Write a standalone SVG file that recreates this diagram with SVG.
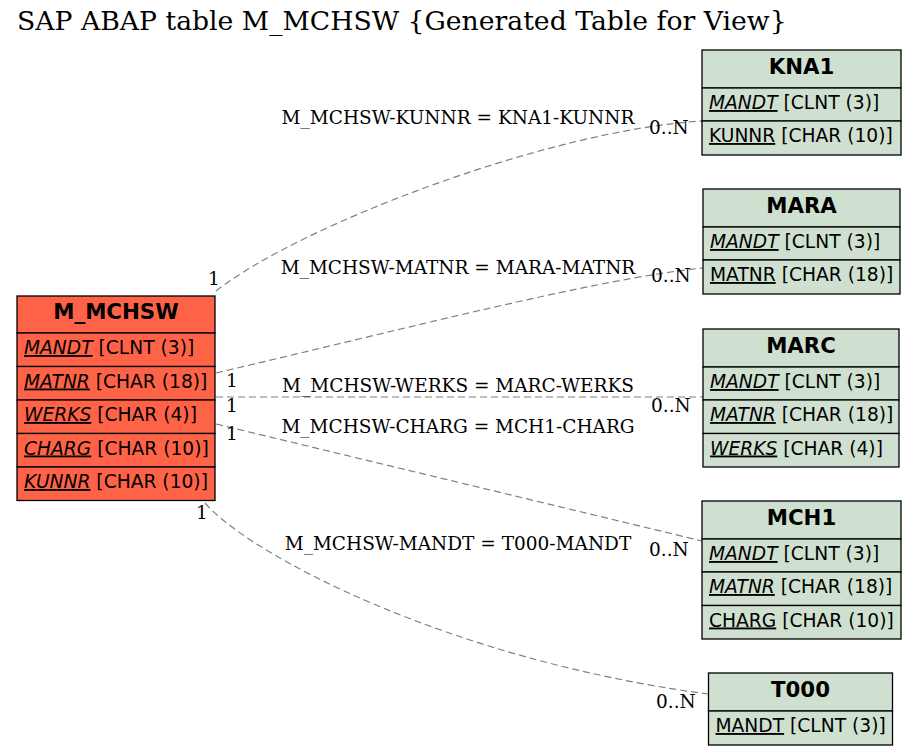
<svg xmlns="http://www.w3.org/2000/svg" width="916" height="754" viewBox="0 0 916 754">
<style>
.title{font-family:"DejaVu Serif",serif;font-size:26.67px;fill:#000}
.lbl{font-family:"DejaVu Serif",serif;font-size:18.5px;fill:#000}
.hd{font-family:"DejaVu Sans",sans-serif;font-size:21.3px;font-weight:bold;fill:#000;text-anchor:middle}
.fld{font-family:"DejaVu Sans",sans-serif;font-size:18.67px;fill:#000}
.main{fill:#ff6347;stroke:#000;stroke-width:1.3}
.ref{fill:#d0e0d0;stroke:#000;stroke-width:1.3}
.u{text-decoration:underline}
.i{font-style:italic}
.edge{fill:none;stroke:#808080;stroke-width:1.2;stroke-dasharray:7,4}
</style>
<rect width="916" height="754" fill="#fff"/>
<text class="title" x="17" y="30">SAP ABAP table M_MCHSW {Generated Table for View}</text>

<g id="connectors">
<path class="edge" d="M216,291 C300,225 550,130 702,121"/>
<path class="edge" d="M216,373 C400,330 600,278 703,268"/>
<path class="edge" d="M216,397 L703,397"/>
<path class="edge" d="M216,424 L702,541"/>
<path class="edge" d="M205,503 C250,555 450,660 708,694"/>
<text class="lbl" x="458" y="124" text-anchor="middle">M_MCHSW-KUNNR = KNA1-KUNNR</text>
<text class="lbl" x="458" y="274" text-anchor="middle">M_MCHSW-MATNR = MARA-MATNR</text>
<text class="lbl" x="458" y="392" text-anchor="middle">M_MCHSW-WERKS = MARC-WERKS</text>
<text class="lbl" x="458" y="433" text-anchor="middle">M_MCHSW-CHARG = MCH1-CHARG</text>
<text class="lbl" x="458" y="550" text-anchor="middle">M_MCHSW-MANDT = T000-MANDT</text>
<text class="lbl" x="208" y="285">1</text>
<text class="lbl" x="226" y="387">1</text>
<text class="lbl" x="226" y="412">1</text>
<text class="lbl" x="226" y="440">1</text>
<text class="lbl" x="196" y="519">1</text>
<text class="lbl" x="649" y="134">0..N</text>
<text class="lbl" x="651" y="282">0..N</text>
<text class="lbl" x="651" y="412">0..N</text>
<text class="lbl" x="649" y="556">0..N</text>
<text class="lbl" x="656" y="708">0..N</text>
</g>

<g id="M_MCHSW">
<rect class="main" x="17" y="296" width="198" height="37"/>
<rect class="main" x="17" y="333" width="198" height="33.5"/>
<rect class="main" x="17" y="366.5" width="198" height="33.5"/>
<rect class="main" x="17" y="400" width="198" height="33.5"/>
<rect class="main" x="17" y="433.5" width="198" height="33.5"/>
<rect class="main" x="17" y="467" width="198" height="33.5"/>
<text class="hd" x="116" y="318.5">M_MCHSW</text>
<text class="fld" x="24" y="354"><tspan class="u i">MANDT</tspan> [CLNT (3)]</text>
<text class="fld" x="24" y="387.5"><tspan class="u i">MATNR</tspan> [CHAR (18)]</text>
<text class="fld" x="24" y="421"><tspan class="u i">WERKS</tspan> [CHAR (4)]</text>
<text class="fld" x="24" y="454.5"><tspan class="u i">CHARG</tspan> [CHAR (10)]</text>
<text class="fld" x="24" y="488"><tspan class="u i">KUNNR</tspan> [CHAR (10)]</text>
</g>

<g id="KNA1">
<rect class="ref" x="702" y="50" width="199" height="38"/>
<rect class="ref" x="702" y="88" width="199" height="33"/>
<rect class="ref" x="702" y="121" width="199" height="34"/>
<text class="hd" x="801.5" y="73.5">KNA1</text>
<text class="fld" x="709" y="109"><tspan class="u i">MANDT</tspan> [CLNT (3)]</text>
<text class="fld" x="709" y="142"><tspan class="u">KUNNR</tspan> [CHAR (10)]</text>
</g>

<g id="MARA">
<rect class="ref" x="703" y="189" width="197" height="38"/>
<rect class="ref" x="703" y="227" width="197" height="33"/>
<rect class="ref" x="703" y="260" width="197" height="34"/>
<text class="hd" x="801.5" y="212.5">MARA</text>
<text class="fld" x="710" y="248"><tspan class="u i">MANDT</tspan> [CLNT (3)]</text>
<text class="fld" x="710" y="281"><tspan class="u">MATNR</tspan> [CHAR (18)]</text>
</g>

<g id="MARC">
<rect class="ref" x="703" y="329" width="196" height="38"/>
<rect class="ref" x="703" y="367" width="196" height="33"/>
<rect class="ref" x="703" y="400" width="196" height="33.5"/>
<rect class="ref" x="703" y="433.5" width="196" height="33.5"/>
<text class="hd" x="801" y="352.5">MARC</text>
<text class="fld" x="710" y="388"><tspan class="u i">MANDT</tspan> [CLNT (3)]</text>
<text class="fld" x="710" y="421"><tspan class="u i">MATNR</tspan> [CHAR (18)]</text>
<text class="fld" x="710" y="454.5"><tspan class="u i">WERKS</tspan> [CHAR (4)]</text>
</g>

<g id="MCH1">
<rect class="ref" x="702" y="501" width="199" height="38"/>
<rect class="ref" x="702" y="539" width="199" height="33"/>
<rect class="ref" x="702" y="572" width="199" height="33.5"/>
<rect class="ref" x="702" y="605.5" width="199" height="33.5"/>
<text class="hd" x="801.5" y="524.5">MCH1</text>
<text class="fld" x="709" y="560"><tspan class="u i">MANDT</tspan> [CLNT (3)]</text>
<text class="fld" x="709" y="593"><tspan class="u i">MATNR</tspan> [CHAR (18)]</text>
<text class="fld" x="709" y="626.5"><tspan class="u">CHARG</tspan> [CHAR (10)]</text>
</g>

<g id="T000">
<rect class="ref" x="708.5" y="673" width="184" height="38"/>
<rect class="ref" x="708.5" y="711" width="184" height="34"/>
<text class="hd" x="800.5" y="696.5">T000</text>
<text class="fld" x="715.5" y="732"><tspan class="u">MANDT</tspan> [CLNT (3)]</text>
</g>
</svg>
